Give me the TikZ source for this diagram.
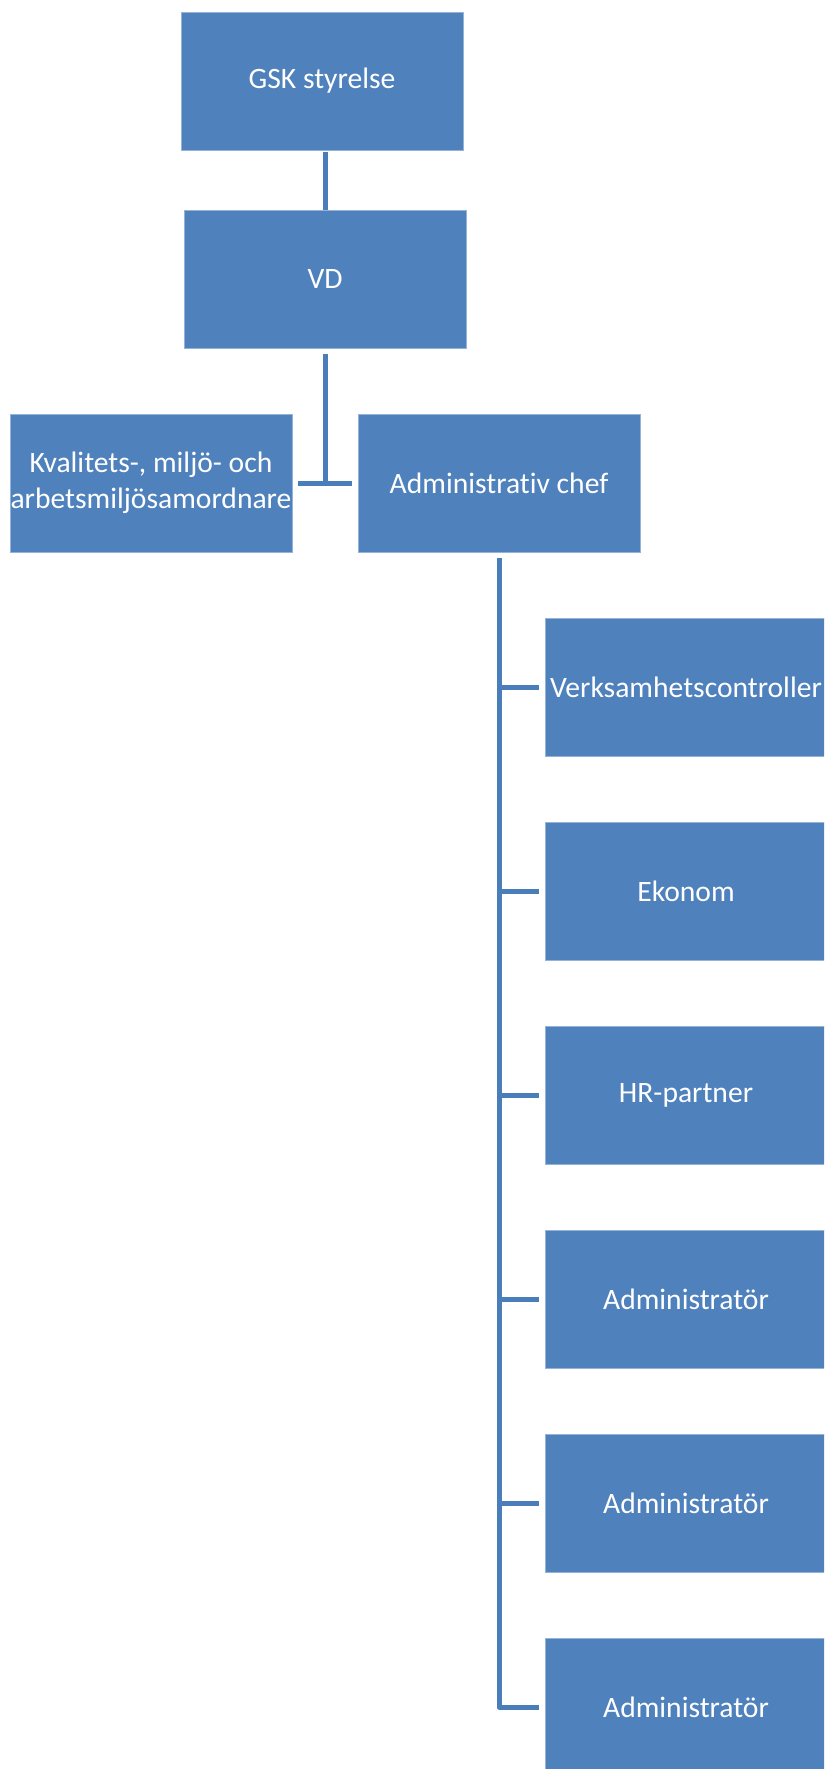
\documentclass[tikz,border=0pt]{standalone}
\usepackage{fontspec}
\setmainfont{Carlito}[Ligatures=NoCommon]
\usetikzlibrary{positioning}
\definecolor{boxblue}{HTML}{4F81BD}
\definecolor{lineblue}{HTML}{4A7EBB}

\begin{document}
\begin{tikzpicture}
                [
                x=0.75pt,y=-0.75pt,
                box/.style={rectangle,fill=boxblue,draw=boxblue!60!white,line width=0.4pt,
                  minimum width=211.5pt,minimum height=103.5pt,inner sep=0pt,
                  text=white,font=\fontsize{22.2}{27}\selectfont,align=center},
                edge/.style={lineblue,line width=3.75pt,line join=round}
                ]
            \useasboundingbox (0,0) rectangle (824,1769);
            \clip (0,0) rectangle (824,1769);
            \node[box] (styrelse) at (322,81) {GSK styrelse};
            \node[box] (vd) at (325,279) {VD};
            \node[box] (kvalitet) at (151,483) {Kvalitets-, miljö- och\\arbetsmiljösamordnare};
            \node[box] (adminchef) at (499,483) {Administrativ chef};
            \node[box] (controller) at (686,687) {Verksamhetscontroller};
            \node[box] (ekonom) at (686,891) {Ekonom};
            \node[box] (hr) at (686,1095) {HR-partner};
            \node[box] (admin1) at (686,1299) {Administratör};
            \node[box] (admin2) at (686,1503) {Administratör};
            \node[box] (admin3) at (686,1707) {Administratör};
            \draw[edge] ([yshift=-1pt]styrelse.south -| vd.south) -- (vd.north);
            \draw[edge,shorten <=4.5pt] (vd.south) -- (vd.south |- kvalitet.east);
            \draw[edge,shorten <=4.5pt,shorten >=4pt] (kvalitet.east) -- (adminchef.west);
            \draw[edge,shorten <=4.5pt] (adminchef.south) -- (adminchef.south |- admin3.west) -- ([xshift=-4pt]admin3.west);
            \foreach \n in {controller,ekonom,hr,admin1,admin2}
              \draw[edge] (adminchef.south |- \n.west) -- ([xshift=-4pt]\n.west);
            \end{tikzpicture}
\end{document}
